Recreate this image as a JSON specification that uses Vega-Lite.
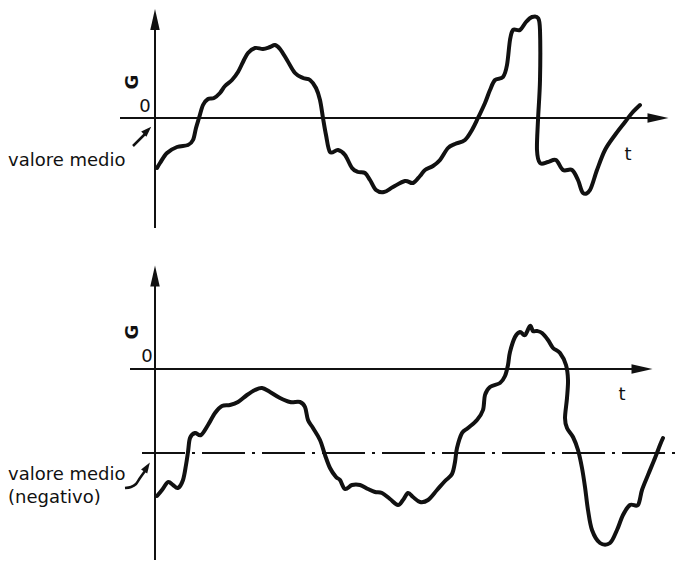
{
  "$schema": "https://vega.github.io/schema/vega-lite/v6.json",
  "padding": 0,
  "spacing": 0,
  "bounds": "flush",
  "background": "white",
  "config": {"view": {"stroke": null}, "concat": {"spacing": 0}},
  "datasets": {
    "curveTop": [
      {"i":1,"t":2,"G":-50},{"i":2,"t":5,"G":-45},{"i":3,"t":12,"G":-35},{"i":4,"t":22,"G":-29},{"i":5,"t":33,"G":-27},
      {"i":6,"t":38,"G":-22},{"i":7,"t":41,"G":-10},{"i":8,"t":44,"G":0},{"i":9,"t":48,"G":13},{"i":10,"t":53,"G":19},
      {"i":11,"t":59,"G":20},{"i":12,"t":65,"G":25},{"i":13,"t":70,"G":32},{"i":14,"t":77,"G":38},{"i":15,"t":83,"G":46},
      {"i":16,"t":88,"G":56},{"i":17,"t":93,"G":65},{"i":18,"t":100,"G":70},{"i":19,"t":108,"G":69},{"i":20,"t":115,"G":71},
      {"i":21,"t":120,"G":73},{"i":22,"t":125,"G":69},{"i":23,"t":132,"G":58},{"i":24,"t":140,"G":45},{"i":25,"t":148,"G":40},
      {"i":26,"t":155,"G":38},{"i":27,"t":161,"G":30},{"i":28,"t":165,"G":18},{"i":29,"t":168,"G":0},{"i":30,"t":171,"G":-17},
      {"i":31,"t":175,"G":-34},{"i":32,"t":183,"G":-32},{"i":33,"t":190,"G":-37},{"i":34,"t":197,"G":-50},{"i":35,"t":203,"G":-54},
      {"i":36,"t":210,"G":-55},{"i":37,"t":215,"G":-62},{"i":38,"t":221,"G":-72},{"i":39,"t":229,"G":-74},{"i":40,"t":238,"G":-69},
      {"i":41,"t":250,"G":-63},{"i":42,"t":258,"G":-65},{"i":43,"t":265,"G":-58},{"i":44,"t":270,"G":-52},{"i":45,"t":278,"G":-48},
      {"i":46,"t":285,"G":-42},{"i":47,"t":293,"G":-30},{"i":48,"t":300,"G":-26},{"i":49,"t":310,"G":-22},{"i":50,"t":317,"G":-12},
      {"i":51,"t":323,"G":0},{"i":52,"t":330,"G":15},{"i":53,"t":335,"G":28},{"i":54,"t":340,"G":38},{"i":55,"t":348,"G":41},
      {"i":56,"t":352,"G":53},{"i":57,"t":355,"G":78},{"i":58,"t":358,"G":88},{"i":59,"t":365,"G":88},{"i":60,"t":371,"G":96},
      {"i":61,"t":377,"G":101},{"i":62,"t":383,"G":100},{"i":63,"t":385,"G":88},{"i":64,"t":385,"G":38},{"i":65,"t":383,"G":-2},
      {"i":66,"t":382,"G":-32},{"i":67,"t":385,"G":-45},{"i":68,"t":393,"G":-44},{"i":69,"t":401,"G":-42},{"i":70,"t":408,"G":-52},
      {"i":71,"t":417,"G":-52},{"i":72,"t":423,"G":-62},{"i":73,"t":428,"G":-75},{"i":74,"t":435,"G":-72},{"i":75,"t":442,"G":-52},
      {"i":76,"t":450,"G":-32},{"i":77,"t":460,"G":-17},{"i":78,"t":470,"G":-4},{"i":79,"t":477,"G":5},{"i":80,"t":485,"G":13}
    ],
    "curveBottom": [
      {"i":1,"t":2,"G":-127},{"i":2,"t":7,"G":-121},{"i":3,"t":13,"G":-113},{"i":4,"t":18,"G":-116},{"i":5,"t":23,"G":-119},
      {"i":6,"t":28,"G":-111},{"i":7,"t":31,"G":-96},{"i":8,"t":33,"G":-83},{"i":9,"t":35,"G":-69},{"i":10,"t":40,"G":-64},
      {"i":11,"t":46,"G":-66},{"i":12,"t":53,"G":-56},{"i":13,"t":60,"G":-44},{"i":14,"t":67,"G":-37},{"i":15,"t":75,"G":-36},
      {"i":16,"t":83,"G":-33},{"i":17,"t":92,"G":-26},{"i":18,"t":100,"G":-21},{"i":19,"t":107,"G":-19},{"i":20,"t":115,"G":-23},
      {"i":21,"t":125,"G":-29},{"i":22,"t":135,"G":-33},{"i":23,"t":145,"G":-33},{"i":24,"t":150,"G":-38},{"i":25,"t":153,"G":-51},
      {"i":26,"t":158,"G":-59},{"i":27,"t":165,"G":-71},{"i":28,"t":170,"G":-86},{"i":29,"t":175,"G":-99},{"i":30,"t":181,"G":-108},
      {"i":31,"t":185,"G":-111},{"i":32,"t":190,"G":-120},{"i":33,"t":197,"G":-116},{"i":34,"t":205,"G":-116},{"i":35,"t":213,"G":-120},
      {"i":36,"t":220,"G":-123},{"i":37,"t":227,"G":-124},{"i":38,"t":235,"G":-130},{"i":39,"t":243,"G":-136},{"i":40,"t":248,"G":-131},
      {"i":41,"t":253,"G":-124},{"i":42,"t":258,"G":-128},{"i":43,"t":265,"G":-133},{"i":44,"t":273,"G":-131},{"i":45,"t":282,"G":-121},
      {"i":46,"t":290,"G":-112},{"i":47,"t":297,"G":-105},{"i":48,"t":300,"G":-93},{"i":49,"t":302,"G":-79},{"i":50,"t":307,"G":-64},
      {"i":51,"t":313,"G":-59},{"i":52,"t":322,"G":-51},{"i":53,"t":328,"G":-41},{"i":54,"t":330,"G":-26},{"i":55,"t":335,"G":-18},
      {"i":56,"t":345,"G":-14},{"i":57,"t":350,"G":-7},{"i":58,"t":353,"G":4},{"i":59,"t":355,"G":17},{"i":60,"t":360,"G":32},
      {"i":61,"t":365,"G":37},{"i":62,"t":370,"G":34},{"i":63,"t":375,"G":43},{"i":64,"t":378,"G":38},{"i":65,"t":382,"G":38},
      {"i":66,"t":387,"G":36},{"i":67,"t":393,"G":29},{"i":68,"t":398,"G":21},{"i":69,"t":405,"G":16},{"i":70,"t":411,"G":4},
      {"i":71,"t":413,"G":-11},{"i":72,"t":412,"G":-29},{"i":73,"t":410,"G":-49},{"i":74,"t":412,"G":-59},{"i":75,"t":418,"G":-68},
      {"i":76,"t":423,"G":-81},{"i":77,"t":427,"G":-99},{"i":78,"t":430,"G":-118},{"i":79,"t":433,"G":-141},{"i":80,"t":437,"G":-161},
      {"i":81,"t":445,"G":-174},{"i":82,"t":455,"G":-174},{"i":83,"t":462,"G":-161},{"i":84,"t":468,"G":-146},{"i":85,"t":475,"G":-136},
      {"i":86,"t":483,"G":-136},{"i":87,"t":487,"G":-121},{"i":88,"t":493,"G":-106},{"i":89,"t":500,"G":-89},{"i":90,"t":505,"G":-76},
      {"i":91,"t":508,"G":-69}
    ]
  },
  "vconcat": [
    {
      "width": 680,
      "height": 281,
      "layer": [
        {
          "data": {"values": [{"t": 0, "G": -110, "G2": 93}]},
          "mark": {"type": "rule", "strokeWidth": 2, "color": "#111"},
          "encoding": {
            "x": {"field": "t", "type": "quantitative", "scale": {"domain": [-155, 525], "nice": false, "zero": false}, "axis": null},
            "y": {"field": "G", "type": "quantitative", "scale": {"domain": [-163, 118], "nice": false, "zero": false}, "axis": null},
            "y2": {"field": "G2"}
          }
        },
        {
          "data": {"values": [{"t": -35, "t2": 495, "G": 0}]},
          "mark": {"type": "rule", "strokeWidth": 2, "color": "#111"},
          "encoding": {
            "x": {"field": "t", "type": "quantitative"},
            "x2": {"field": "t2"},
            "y": {"field": "G", "type": "quantitative"}
          }
        },
        {
          "data": {"values": [{"t": 0, "G": 98.5}]},
          "mark": {"type": "point", "shape": "M0,-1L0.45,1L-0.45,1Z", "filled": true, "size": 441, "color": "#111", "opacity": 1},
          "encoding": {"x": {"field": "t", "type": "quantitative"}, "y": {"field": "G", "type": "quantitative"}}
        },
        {
          "data": {"values": [{"t": 503, "G": 0}]},
          "mark": {"type": "point", "shape": "M1,0L-1,0.45L-1,-0.45Z", "filled": true, "size": 441, "color": "#111", "opacity": 1},
          "encoding": {"x": {"field": "t", "type": "quantitative"}, "y": {"field": "G", "type": "quantitative"}}
        },
        {
          "data": {"name": "curveTop"},
          "mark": {"type": "line", "interpolate": "cardinal", "strokeWidth": 4, "color": "#111", "strokeCap": "round", "strokeJoin": "round"},
          "encoding": {
            "x": {"field": "t", "type": "quantitative"},
            "y": {"field": "G", "type": "quantitative"},
            "order": {"field": "i", "type": "quantitative"}
          }
        },
        {
          "data": {"values": [{"i": 1, "t": -22, "G": -28}, {"i": 2, "t": -9, "G": -15}]},
          "mark": {"type": "line", "strokeWidth": 2.5, "color": "#111"},
          "encoding": {
            "x": {"field": "t", "type": "quantitative"},
            "y": {"field": "G", "type": "quantitative"},
            "order": {"field": "i", "type": "quantitative"}
          }
        },
        {
          "data": {"values": [{"t": -7.5, "G": -12.5}]},
          "mark": {"type": "point", "shape": "M0,-1L0.7,1L-0.7,1Z", "filled": true, "size": 110, "angle": 45, "color": "#111", "opacity": 1},
          "encoding": {"x": {"field": "t", "type": "quantitative"}, "y": {"field": "G", "type": "quantitative"}}
        },
        {
          "data": {"values": [{"t": -22, "G": 36, "label": "G"}]},
          "mark": {"type": "text", "font": "DejaVu Sans", "fontSize": 18, "fontWeight": "bold", "angle": 270, "align": "center", "baseline": "middle", "color": "#111"},
          "encoding": {"x": {"field": "t", "type": "quantitative"}, "y": {"field": "G", "type": "quantitative"}, "text": {"field": "label"}}
        },
        {
          "data": {"values": [
            {"t": -10, "G": 11, "label": "0"},
            {"t": 473, "G": -37, "label": "t"}
          ]},
          "mark": {"type": "text", "font": "DejaVu Sans", "fontSize": 18, "align": "center", "baseline": "middle", "color": "#111"},
          "encoding": {"x": {"field": "t", "type": "quantitative"}, "y": {"field": "G", "type": "quantitative"}, "text": {"field": "label"}}
        },
        {
          "data": {"values": [{"t": -147, "G": -43, "label": "valore medio"}]},
          "mark": {"type": "text", "font": "DejaVu Sans", "fontSize": 18, "align": "left", "baseline": "middle", "color": "#111"},
          "encoding": {"x": {"field": "t", "type": "quantitative"}, "y": {"field": "G", "type": "quantitative"}, "text": {"field": "label"}}
        }
      ]
    },
    {
      "width": 680,
      "height": 281,
      "layer": [
        {
          "data": {"values": [{"t": 0, "G": -191, "G2": 89}]},
          "mark": {"type": "rule", "strokeWidth": 2, "color": "#111"},
          "encoding": {
            "x": {"field": "t", "type": "quantitative", "scale": {"domain": [-155, 525], "nice": false, "zero": false}, "axis": null},
            "y": {"field": "G", "type": "quantitative", "scale": {"domain": [-193, 88], "nice": false, "zero": false}, "axis": null},
            "y2": {"field": "G2"}
          }
        },
        {
          "data": {"values": [{"t": -25, "t2": 480, "G": 0}]},
          "mark": {"type": "rule", "strokeWidth": 2, "color": "#111"},
          "encoding": {
            "x": {"field": "t", "type": "quantitative"},
            "x2": {"field": "t2"},
            "y": {"field": "G", "type": "quantitative"}
          }
        },
        {
          "data": {"values": [{"t": -13, "t2": 525, "G": -84}]},
          "mark": {"type": "rule", "strokeWidth": 2, "color": "#111", "strokeDash": [43, 7, 3, 7]},
          "encoding": {
            "x": {"field": "t", "type": "quantitative"},
            "x2": {"field": "t2"},
            "y": {"field": "G", "type": "quantitative"}
          }
        },
        {
          "data": {"values": [{"t": 0, "G": 93}]},
          "mark": {"type": "point", "shape": "M0,-1L0.45,1L-0.45,1Z", "filled": true, "size": 441, "color": "#111", "opacity": 1},
          "encoding": {"x": {"field": "t", "type": "quantitative"}, "y": {"field": "G", "type": "quantitative"}}
        },
        {
          "data": {"values": [{"t": 487, "G": 0}]},
          "mark": {"type": "point", "shape": "M1,0L-1,0.45L-1,-0.45Z", "filled": true, "size": 441, "color": "#111", "opacity": 1},
          "encoding": {"x": {"field": "t", "type": "quantitative"}, "y": {"field": "G", "type": "quantitative"}}
        },
        {
          "data": {"name": "curveBottom"},
          "mark": {"type": "line", "interpolate": "cardinal", "strokeWidth": 4, "color": "#111", "strokeCap": "round", "strokeJoin": "round"},
          "encoding": {
            "x": {"field": "t", "type": "quantitative"},
            "y": {"field": "G", "type": "quantitative"},
            "order": {"field": "i", "type": "quantitative"}
          }
        },
        {
          "data": {"values": [
            {"i": 1, "t": -30, "G": -119}, {"i": 2, "t": -24, "G": -118}, {"i": 3, "t": -19, "G": -115},
            {"i": 4, "t": -15, "G": -109}, {"i": 5, "t": -10, "G": -102}
          ]},
          "mark": {"type": "line", "interpolate": "cardinal", "strokeWidth": 2.5, "color": "#111"},
          "encoding": {
            "x": {"field": "t", "type": "quantitative"},
            "y": {"field": "G", "type": "quantitative"},
            "order": {"field": "i", "type": "quantitative"}
          }
        },
        {
          "data": {"values": [{"t": -8, "G": -98}]},
          "mark": {"type": "point", "shape": "M0,-1L0.7,1L-0.7,1Z", "filled": true, "size": 110, "angle": 33, "color": "#111", "opacity": 1},
          "encoding": {"x": {"field": "t", "type": "quantitative"}, "y": {"field": "G", "type": "quantitative"}}
        },
        {
          "data": {"values": [{"t": -22, "G": 37, "label": "G"}]},
          "mark": {"type": "text", "font": "DejaVu Sans", "fontSize": 18, "fontWeight": "bold", "angle": 270, "align": "center", "baseline": "middle", "color": "#111"},
          "encoding": {"x": {"field": "t", "type": "quantitative"}, "y": {"field": "G", "type": "quantitative"}, "text": {"field": "label"}}
        },
        {
          "data": {"values": [
            {"t": -8, "G": 12, "label": "0"},
            {"t": 467, "G": -26, "label": "t"}
          ]},
          "mark": {"type": "text", "font": "DejaVu Sans", "fontSize": 18, "align": "center", "baseline": "middle", "color": "#111"},
          "encoding": {"x": {"field": "t", "type": "quantitative"}, "y": {"field": "G", "type": "quantitative"}, "text": {"field": "label"}}
        },
        {
          "data": {"values": [
            {"t": -147, "G": -106, "label": "valore medio"},
            {"t": -147, "G": -129, "label": "(negativo)"}
          ]},
          "mark": {"type": "text", "font": "DejaVu Sans", "fontSize": 18, "align": "left", "baseline": "middle", "color": "#111"},
          "encoding": {"x": {"field": "t", "type": "quantitative"}, "y": {"field": "G", "type": "quantitative"}, "text": {"field": "label"}}
        }
      ]
    }
  ]
}
